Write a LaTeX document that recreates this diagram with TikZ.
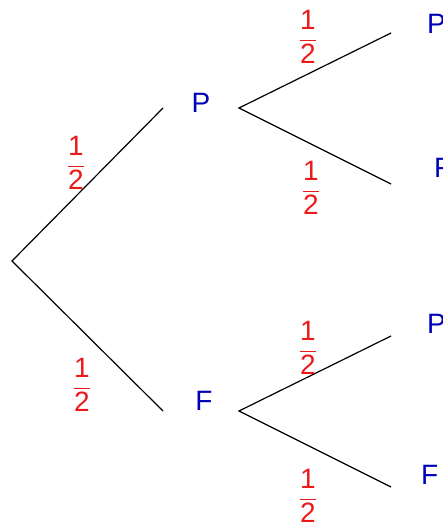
\documentclass[tikz,border=0pt]{standalone}
\usepackage{fontspec}
\setmainfont{Liberation Sans}
\definecolor{outcome}{RGB}{0,0,185}
\definecolor{prob}{RGB}{235,25,25}
\newcommand{\half}{\ensuremath{\displaystyle\frac{\mbox{1}}{\mbox{2}}}}
\begin{document}
\begin{tikzpicture}[x=1pt,y=-1pt,
  branch/.style={draw=black,line width=1.2pt},
  outcomelabel/.style={text=outcome,font=\fontsize{28}{32}\selectfont,inner sep=0pt},
  problabel/.style={text=prob,font=\fontsize{28}{32}\selectfont,inner sep=0pt}]
  \useasboundingbox (0,0) rectangle (443,526);
  % branch end points
  \coordinate (root) at (12,261);
  \coordinate (toP) at (163,108);
  \coordinate (toF) at (163,411);
  \coordinate (fromP) at (239,108);
  \coordinate (fromF) at (239,411);
  \coordinate (PP) at (391,33);
  \coordinate (PF) at (391,184);
  \coordinate (FP) at (391,336);
  \coordinate (FF) at (391,487);
  % outcomes
  \node[outcomelabel] (P) at (201,103) {P};
  \node[outcomelabel] (F) at (204,401) {F};
  \node[outcomelabel,anchor=west] (P2) at (427,24) {P};
  \node[outcomelabel,anchor=west] (F2) at (434,168) {F};
  \node[outcomelabel,anchor=west] (P3) at (427,324) {P};
  \node[outcomelabel,anchor=west] (F3) at (421,475) {F};
  % branches
  \draw[branch] (toP) -- (root) -- (toF);
  \draw[branch] (PP) -- (fromP) -- (PF);
  \draw[branch] (FP) -- (fromF) -- (FF);
  % probabilities
  \node[problabel] (q1) at (76,163) {\half};
  \node[problabel] (q2) at (82,385) {\half};
  \node[problabel] (q3) at (308,37) {\half};
  \node[problabel] (q4) at (311,188) {\half};
  \node[problabel] (q5) at (308,348) {\half};
  \node[problabel] (q6) at (308,496) {\half};
\end{tikzpicture}
\end{document}
